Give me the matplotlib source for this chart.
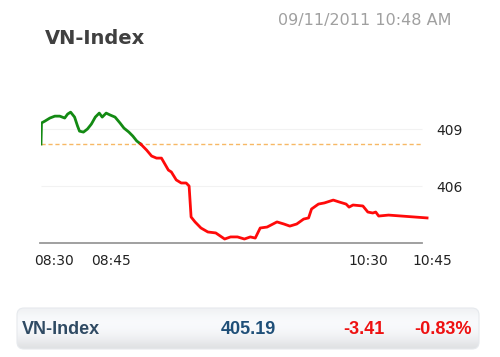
import numpy as np
import matplotlib
matplotlib.use('Agg')
import matplotlib.pyplot as plt
from matplotlib.patches import FancyBboxPatch

# Intraday VN-Index (x = chart slot position, y = index value)
x_up = [0, 0.5, 4, 9, 14, 19, 24, 27, 30, 34, 37, 39, 43, 47, 51, 55, 59, 62, 66,
        70, 75, 80, 84, 89, 93, 97, 101]
v_up = [408.21, 409.32, 409.42, 409.58, 409.68, 409.68, 409.58, 409.79, 409.89,
        409.63, 409.16, 408.89, 408.84, 409.00, 409.26, 409.63, 409.84, 409.63,
        409.84, 409.74, 409.63, 409.32, 409.05, 408.84, 408.63, 408.37, 408.21]
x_down = [101, 107, 112, 117, 122, 126, 129, 132, 137, 142, 147, 150, 152, 156,
          162, 169, 177, 186, 192, 199, 206, 212, 217, 222, 229, 239, 246, 252,
          259, 266, 271, 274, 281, 287, 296, 302, 309, 312, 316, 326, 331, 336,
          339, 342, 352, 391]
v_down = [408.21, 407.89, 407.58, 407.47, 407.47, 407.11, 406.84, 406.74, 406.32,
          406.16, 406.16, 406.00, 404.37, 404.11, 403.79, 403.58, 403.53, 403.21,
          403.32, 403.32, 403.21, 403.32, 403.26, 403.79, 403.84, 404.11, 404.00,
          403.89, 404.00, 404.26, 404.32, 404.79, 405.05, 405.11, 405.26, 405.16,
          405.05, 404.89, 405.00, 404.95, 404.63, 404.58, 404.63, 404.42, 404.47,
          404.32]
ref_value = 408.21

time_pos = [13, 71, 331, 396]
time_labels = ['08:30', '08:45', '10:30', '10:45']
y_ticks = [409, 406]

title = 'VN-Index'
stamp = '09/11/2011 10:48 AM'
summary = ['VN-Index', '405.19', '-3.41', '-0.83%']

fig = plt.figure(figsize=(5, 3.57), dpi=100)
fig.patch.set_facecolor('white')

ax = fig.add_axes([41 / 500, 114 / 357, 391 / 500, 143 / 357])
ax.set_xlim(0, 391)
ax.set_ylim(403.0, 410.53)

ax.hlines(y_ticks, 0, 386, color='#f2f2f2', linewidth=0.8, zorder=0)
ax.axhline(ref_value, xmin=0, xmax=381 / 391, color='#f7b865',
           linestyle=(0, (3, 2)), linewidth=1.0, zorder=1)
ax.plot(x_up, v_up, color='#138a13', linewidth=2.0, zorder=3,
        solid_joinstyle='round')
ax.plot(x_down, v_down, color='#ff0a0a', linewidth=2.0, zorder=3,
        solid_joinstyle='round')

for s in ['top', 'left', 'right']:
    ax.spines[s].set_visible(False)
ax.spines['bottom'].set_bounds(-1, 386)
ax.spines['bottom'].set_color('#999999')
ax.spines['bottom'].set_linewidth(1.3)

ax.yaxis.tick_right()
ax.set_yticks(y_ticks)
ax.set_yticklabels([str(t) for t in y_ticks])
ax.tick_params(axis='y', length=0, pad=3, labelsize=10, labelcolor='#222222')
ax.set_xticks(time_pos)
ax.set_xticklabels(time_labels)
ax.tick_params(axis='x', length=0, pad=8, labelsize=10, labelcolor='#222222')

fig.text(45 / 500, 1 - 38 / 357, title, fontsize=14, fontweight='bold',
         color='#404040', va='center', ha='left')
fig.text(452 / 500, 1 - 20 / 357, stamp, fontsize=11.5, color='#a0a0a0',
         va='center', ha='right')

# summary bar with soft gradient
bx = fig.add_axes([16 / 500, 7 / 357, 464 / 500, 43 / 357])
bx.set_xlim(0, 464)
bx.set_ylim(0, 43)
bx.axis('off')
grad = np.array([[0.89], [0.935], [0.965], [0.985], [0.99], [0.985], [0.955]])
rgb = np.dstack([grad * 0.985, grad * 0.99, grad * 1.0])
im = bx.imshow(rgb, extent=[0, 464, 0, 43], aspect='auto',
               interpolation='bicubic', origin='lower')
box = FancyBboxPatch((1, 1), 462, 41, boxstyle='round,pad=0,rounding_size=7',
                     facecolor='none', edgecolor='#e6e9ed', linewidth=0.8,
                     transform=bx.transData)
bx.add_patch(box)
im.set_clip_path(box)

kw = dict(fontsize=13, fontweight='bold', family='Liberation Sans', va='center')
bx.text(6, 20, summary[0], color='#2f4a63', ha='left', **kw)
bx.text(260, 20, summary[1], color='#1f4f78', ha='right', **kw)
bx.text(369, 20, summary[2], color='#ee1111', ha='right', **kw)
bx.text(456, 20, summary[3], color='#ee1111', ha='right', **kw)

fig.savefig('out.png', dpi=100, facecolor='white')
